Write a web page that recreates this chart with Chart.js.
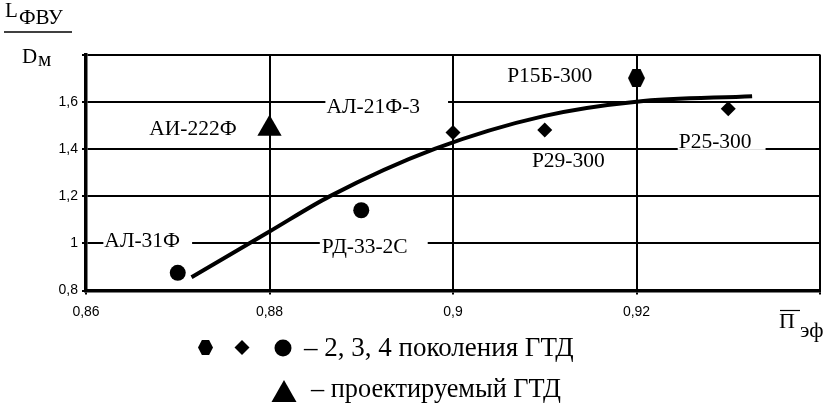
<!DOCTYPE html>
<html>
<head>
<meta charset="utf-8">
<script src="https://cdn.jsdelivr.net/npm/chart.js@4.4.1/dist/chart.umd.min.js"></script>
<style>
  html, body { margin: 0; padding: 0; background: #fff; }
  canvas { display: block; }
  .pre { position: absolute; left: -1000px; top: 0; }
</style>
</head>
<body>
<span class="pre" style="font-family:'Liberation Serif'">ФВУ АЛ-31Ф</span>
<span class="pre" style="font-family:'Liberation Sans'">0,86</span>
<canvas id="chart1" width="828" height="404"></canvas>
<script>
"use strict";

// axis limits / ticks
var xMin = 0.86, xMax = 0.94, xStep = 0.02;
var yMin = 0.8, yMax = 1.8, yStep = 0.2;

// trend curve
var curveX = [0.8715, 0.88, 0.8866, 0.898, 0.91, 0.92, 0.9326];
var curveY = [0.856, 1.05, 1.2, 1.4, 1.54, 1.6, 1.623];

// engines, by marker
var hexX = [0.92];
var hexY = [1.70];
var diamondX = [0.90, 0.91, 0.93];
var diamondY = [1.47, 1.48, 1.57];
var circleX = [0.87, 0.89];
var circleY = [0.875, 1.14];
var triangleX = [0.88];
var triangleY = [1.485];

// engine names, anchored at text left / middle (data units)
var labelText = ["АЛ-31Ф", "РД-33-2С", "АИ-222Ф", "АЛ-21Ф-3", "Р15Б-300", "Р29-300", "Р25-300"];
var labelX = [0.8620, 0.8857, 0.8669, 0.8862, 0.9059, 0.9086, 0.9246];
var labelY = [1.011, 0.986, 1.485, 1.582, 1.713, 1.350, 1.434];

var legendLine1 = "– 2, 3, 4 поколения ГТД";
var legendLine2 = "– проектируемый ГТД";

function toPoints(xs, ys) {
  return xs.map(function(x, i) { return { x: x, y: ys[i] }; });
}

function hexagon(w, h) {
  var c = document.createElement("canvas");
  c.width = w;
  c.height = h;
  var g = c.getContext("2d");
  g.fillStyle = "#000";
  g.beginPath();
  g.moveTo(0, h / 2);
  g.lineTo(w * 0.26, 0);
  g.lineTo(w * 0.74, 0);
  g.lineTo(w, h / 2);
  g.lineTo(w * 0.74, h);
  g.lineTo(w * 0.26, h);
  g.closePath();
  g.fill();
  return c;
}

var serif = "'Liberation Serif', 'Times New Roman', serif";
var labelPad = [[1, 12], [2, 20], [2, 2], [1, 28], [2, 2], [5, 15], [1, 14]];

var labelsPlugin = {
  id: "engineLabels",
  beforeDatasetsDraw: function(chart) {
    var ctx = chart.ctx;
    var xs = chart.scales.x, ys = chart.scales.y;
    ctx.save();
    ctx.font = "21.5px " + serif;
    ctx.textBaseline = "middle";
    ctx.textAlign = "left";
    labelText.forEach(function(t, i) {
      var px = xs.getPixelForValue(labelX[i]);
      var py = ys.getPixelForValue(labelY[i]);
      var w = ctx.measureText(t).width;
      ctx.fillStyle = "#fff";
      ctx.fillRect(px - labelPad[i][0], py - 9, w + labelPad[i][0] + labelPad[i][1], 18);
      ctx.fillStyle = "#000";
      ctx.fillText(t, px, py + 1);
    });
    ctx.restore();
  }
};

var titlesPlugin = {
  id: "titles",
  afterDraw: function(chart) {
    var ctx = chart.ctx;
    ctx.save();
    ctx.fillStyle = "#000";
    ctx.strokeStyle = "#000";
    ctx.textBaseline = "alphabetic";
    ctx.textAlign = "left";

    // y title: L_ФВУ / D_м
    ctx.font = "21px " + serif;
    ctx.fillText("L", 5, 17);
    ctx.fillText("ФВУ", 19, 24);
    ctx.lineWidth = 1.5;
    ctx.beginPath();
    ctx.moveTo(4, 32);
    ctx.lineTo(72, 32);
    ctx.stroke();
    ctx.fillText("D", 22, 63);
    ctx.fillText("м", 38, 66);

    // x title: П̄_эф
    ctx.font = "22px " + serif;
    ctx.fillText("П", 779, 328);
    ctx.lineWidth = 1.2;
    ctx.beginPath();
    ctx.moveTo(780, 310.5);
    ctx.lineTo(800, 310.5);
    ctx.stroke();
    ctx.fillText("эф", 800, 337);

    // legend markers
    ctx.drawImage(hexagon(15, 15), 198, 340);
    ctx.beginPath();
    ctx.moveTo(242, 340);
    ctx.lineTo(249.5, 347.5);
    ctx.lineTo(242, 355);
    ctx.lineTo(234.5, 347.5);
    ctx.closePath();
    ctx.fill();
    ctx.beginPath();
    ctx.arc(283, 348, 8.5, 0, Math.PI * 2);
    ctx.fill();
    ctx.beginPath();
    ctx.moveTo(284, 380);
    ctx.lineTo(296.5, 402);
    ctx.lineTo(271.5, 402);
    ctx.closePath();
    ctx.fill();

    ctx.textBaseline = "middle";
    ctx.font = "27px " + serif;
    ctx.fillText(legendLine1, 304, 349);
    ctx.font = "26.3px " + serif;
    ctx.fillText(legendLine2, 311, 390);
    ctx.restore();
  }
};

function chart1() {
  var options = {
    responsive: false,
    animation: false,
    layout: {
      autoPadding: false,
      padding: { top: 54.5, right: 8, left: 0, bottom: 0 }
    },
    plugins: {
      legend: { display: false },
      tooltip: { enabled: false }
    },
    scales: {
      x: {
        type: "linear",
        min: xMin,
        max: xMax,
        afterFit: function(scale) {
          scale.height = 113.5;
          scale.paddingLeft = 0;
          scale.paddingRight = 0;
        },
        border: { color: "#000", width: 3.5 },
        grid: { color: "#000", lineWidth: 2, tickLength: 4, tickColor: "#000" },
        ticks: {
          stepSize: xStep,
          color: "#000",
          padding: 9,
          maxRotation: 0,
          font: { family: "'Liberation Sans', Arial, sans-serif", size: 14 },
          callback: function(v) {
            if (Math.abs(v - xMax) < 1e-6) return "";
            return String(+v.toFixed(2)).replace(".", ",");
          }
        }
      },
      y: {
        type: "linear",
        min: yMin,
        max: yMax,
        afterFit: function(scale) { scale.width = 86; },
        border: { color: "#000", width: 3.5 },
        grid: { color: "#000", lineWidth: 2, tickLength: 4, tickColor: "#000" },
        ticks: {
          stepSize: yStep,
          color: "#000",
          padding: 4,
          font: { family: "'Liberation Sans', Arial, sans-serif", size: 14 },
          callback: function(v) {
            if (Math.abs(v - yMax) < 1e-6) return "";
            return String(+v.toFixed(1)).replace(".", ",");
          }
        }
      }
    }
  };

  var data = {
    datasets: [
      {
        data: toPoints(curveX, curveY),
        showLine: true,
        borderColor: "#000",
        borderWidth: 4,
        pointRadius: 0,
        cubicInterpolationMode: "monotone",
        fill: false
      },
      {
        data: toPoints(hexX, hexY),
        pointStyle: hexagon(17, 18),
        pointRadius: 9
      },
      {
        data: toPoints(diamondX, diamondY),
        pointStyle: "rectRot",
        pointRadius: 7.5,
        backgroundColor: "#000",
        borderColor: "#000",
        borderWidth: 0
      },
      {
        data: toPoints(circleX, circleY),
        pointStyle: "circle",
        pointRadius: 8,
        backgroundColor: "#000",
        borderColor: "#000",
        borderWidth: 0
      },
      {
        data: toPoints(triangleX, triangleY),
        pointStyle: "triangle",
        pointRadius: 14,
        backgroundColor: "#000",
        borderColor: "#000",
        borderWidth: 0
      }
    ]
  };

  var chart = new Chart(document.getElementById("chart1"), {
    type: "scatter",
    data: data,
    options: options,
    plugins: [labelsPlugin, titlesPlugin]
  });
}

Promise.all([
  document.fonts.load("20px 'Liberation Serif'", "ФВУ"),
  document.fonts.load("14px 'Liberation Sans'", "0,86")
]).then(chart1, chart1);
</script>
</body>
</html>
